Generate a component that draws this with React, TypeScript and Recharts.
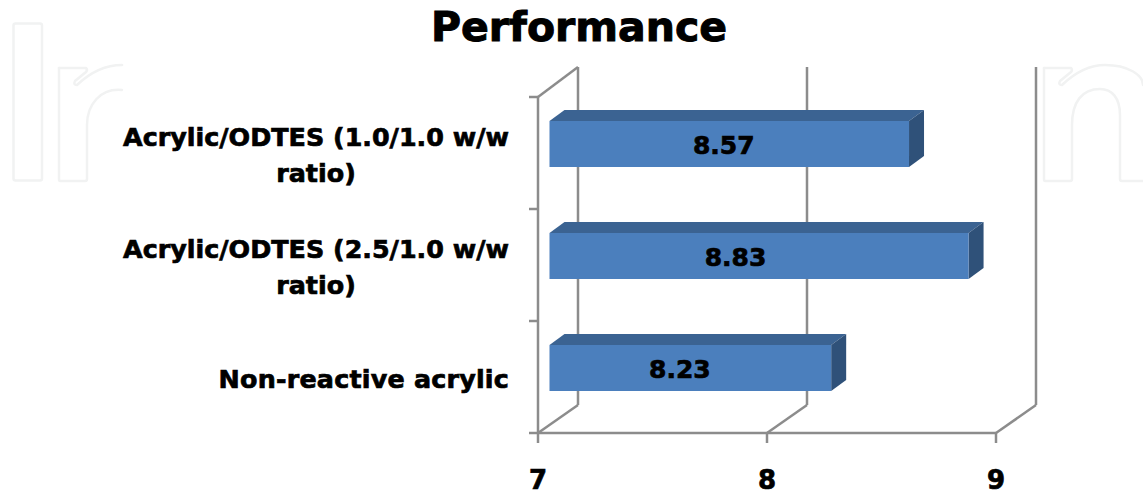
import { BarChart, Bar, XAxis, YAxis, CartesianGrid, LabelList } from "recharts";

const categories = [
  "Acrylic/ODTES (1.0/1.0 w/w ratio)",
  "Acrylic/ODTES (2.5/1.0 w/w ratio)",
  "Non-reactive acrylic",
];
const values = [8.57, 8.83, 8.23];
const xTicks = [7, 8, 9];
const chartTitle = "Performance";

// horizontal nudge of each value label from the bar centre
const labelNudge = [-6, -24, -11];

const FONT = "'DejaVu Sans', sans-serif";
const AXIS = "#8c8c8c";
const BAND = 112;
const WALL_DX = 40;
const heavy = { stroke: "#000", strokeWidth: 0.7 };

const data = categories.map((name, i) => ({ name, value: values[i] }));

function WallLine(props: any) {
  const { x1, y1, y2, index } = props;
  const bx = x1 + WALL_DX;
  return (
    <g stroke={AXIS} strokeWidth={2.5} fill="none">
      <line x1={bx} y1={y1 - 30} x2={bx} y2={y2 - 28} />
      <line x1={x1} y1={y2} x2={bx} y2={y2 - 28} />
      {index === 0 && <line x1={x1} y1={y1} x2={bx} y2={y1 - 30} />}
    </g>
  );
}

function Bar3D(props: any) {
  const { x, y, width, height } = props;
  const fx = x + 11.5;
  const fy = y - 9;
  const dx = 15;
  const dy = 11;
  const r = fx + width;
  const b = fy + height;
  return (
    <g>
      <polygon points={`${fx},${fy} ${fx + dx},${fy - dy} ${r + dx},${fy - dy} ${r},${fy}`} fill="#3b6392" />
      <polygon points={`${r},${fy} ${r + dx},${fy - dy} ${r + dx},${b - dy} ${r},${b}`} fill="#2f5179" />
      <rect x={fx} y={fy} width={width} height={height} fill="#4b7fbd" />
    </g>
  );
}

function CategoryTick(props: any) {
  const { x, y, payload, index } = props;
  const text: string = payload.value;
  const cut = text.indexOf(" ratio");
  const ax = x + 8;
  return (
    <g>
      <line x1={ax - 9} x2={ax} y1={y - BAND / 2} y2={y - BAND / 2} stroke={AXIS} strokeWidth={2.5} />
      {index === categories.length - 1 && (
        <line x1={ax - 9} x2={ax} y1={y + BAND / 2} y2={y + BAND / 2} stroke={AXIS} strokeWidth={2.5} />
      )}
      {cut > 0 ? (
        <text fontFamily={FONT} fontWeight="bold" fontSize={25.4} fill="#000" textAnchor="middle" {...heavy}>
          <tspan x={ax - 222} y={y - 7}>{text.slice(0, cut)}</tspan>
          <tspan x={ax - 222} y={y + 29}>{text.slice(cut + 1)}</tspan>
        </text>
      ) : (
        <text x={ax - 29} y={y + 11} fontFamily={FONT} fontWeight="bold" fontSize={25.4} letterSpacing={0.2} fill="#000" textAnchor="end" {...heavy}>
          {text}
        </text>
      )}
    </g>
  );
}

function ValueLabel(props: any) {
  const { x, y, width, height, value, index } = props;
  return (
    <text
      x={x + 12 + width / 2 + labelNudge[index]}
      y={y + height / 2 + 1}
      fontFamily={FONT}
      fontWeight="bold"
      fontSize={25}
      fill="#000"
      textAnchor="middle"
      {...heavy}
    >
      {value}
    </text>
  );
}

function Watermark() {
  return (
    <svg width={1143} height={495} style={{ position: "absolute", left: 0, top: 0 }}>
      <g fill="none" stroke="#f1f2f2" strokeWidth={2.5} strokeLinejoin="round" strokeLinecap="round">
        <rect x={13.5} y={23.5} width={28.5} height={157} rx={2} />
        <path d="M59 68 H86 Q88 70 86 72 L75 81 Q73 85 77 85 Q98 65 122 65" />
        <path d="M122 90 C100 88 87 105 87 125 V179 Q87 181 85 181 H60 Q59 181 59 179 V68" />
        <path d="M1044 68 H1071 Q1073 70 1071 72 L1060 81 Q1058 85 1062 85 Q1083 65 1105 65 C1128 65 1143 75 1143 85" />
        <path d="M1143 181 H1122 Q1120 181 1120 179 V115 C1120 98 1112 89 1100 89 C1082 89 1072 102 1072 125 V179 Q1072 181 1070 181 H1045 Q1044 181 1044 179 V68" />
      </g>
    </svg>
  );
}

export default function App() {
  return (
    <div style={{ position: "absolute", left: 0, top: 0, width: 1143, height: 495, background: "#fff", overflow: "hidden" }}>
      <Watermark />
      <div
        style={{
          position: "absolute",
          left: 0,
          width: 1158,
          top: 3,
          textAlign: "center",
          fontFamily: FONT,
          fontWeight: "bold",
          fontSize: 41,
          lineHeight: "48px",
          color: "#000",
          WebkitTextStroke: "1px #000",
        }}
      >
        {chartTitle}
      </div>
      <div style={{ position: "absolute", left: 0, top: 0 }}>
        <BarChart
          width={1143}
          height={495}
          data={data}
          layout="vertical"
          margin={{ top: 97, right: 147, bottom: 0, left: 0 }}
          barSize={46}
        >
          <CartesianGrid horizontal={false} vertical={(p: any) => <WallLine key={p.key} {...p} />} />
          <XAxis
            type="number"
            domain={[7, 9]}
            ticks={xTicks}
            height={62}
            interval={0}
            tickSize={10}
            tickMargin={28}
            axisLine={{ stroke: AXIS, strokeWidth: 2.5 }}
            tickLine={{ stroke: AXIS, strokeWidth: 2.5 }}
            tick={{ fontFamily: FONT, fontWeight: "bold", fontSize: 26, fill: "#000", stroke: "#000", strokeWidth: 0.7 }}
          />
          <YAxis
            type="category"
            dataKey="name"
            width={538}
            interval={0}
            tickLine={false}
            axisLine={{ stroke: AXIS, strokeWidth: 2.5 }}
            tick={<CategoryTick />}
          />
          <Bar dataKey="value" shape={<Bar3D />} isAnimationActive={false}>
            <LabelList dataKey="value" content={<ValueLabel />} />
          </Bar>
        </BarChart>
      </div>
    </div>
  );
}
